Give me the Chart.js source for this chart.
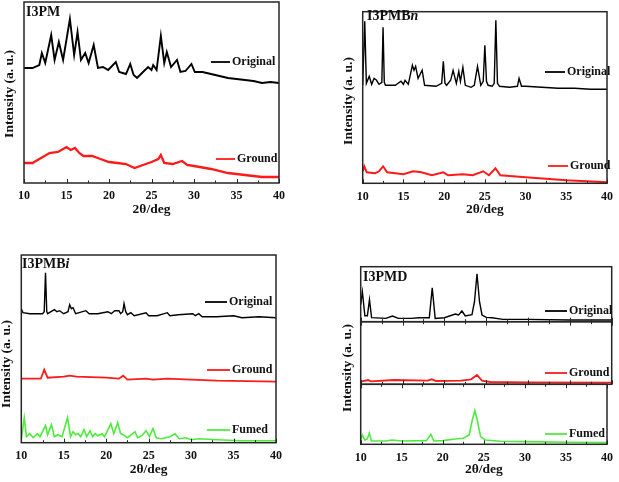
<!DOCTYPE html>
<html>
<head>
<meta charset="utf-8">
<script src="https://cdn.jsdelivr.net/npm/chart.js@4.4.1/dist/chart.umd.min.js"></script>
<style>
  body { margin: 0; background: #fff; width: 619px; height: 482px; position: relative; overflow: hidden; }
  canvas { position: absolute; }
</style>
</head>
<body>
<canvas id="c1" width="292" height="222" style="left:0px;top:0px"></canvas>
<canvas id="c2" width="280" height="222" style="left:339px;top:0px"></canvas>
<canvas id="c3" width="292" height="242" style="left:0px;top:240px"></canvas>
<canvas id="c4a" width="281" height="227" style="left:338px;top:255px"></canvas>
<canvas id="c4b" width="281" height="227" style="left:338px;top:255px"></canvas>
<canvas id="c4c" width="281" height="227" style="left:338px;top:255px"></canvas>
<script>
// values (2theta in deg, intensity in arbitrary units)

// I3PM
const i3pmOriginalX = [10,11,11.8,12.1,12.5,13.2,13.6,14.1,14.6,15.4,15.9,16.3,16.7,17.2,17.6,18.2,18.7,19.3,19.9,20.8,21.2,22,22.5,22.9,23.3,24,24.6,25,25.2,25.6,26.1,26.5,26.8,27.3,28,28.4,29,29.7,30.1,31,32,33,34,35,36,37,38,39,40];
const i3pmOriginalY = [115,115,118,130,120,148,123,141,123,164,128,151,123,130,120,138,115,116,113,121,111,109,119,108,105,111,116,113,118,113,147,120,131,116,123,111,112,119,111,111,109,107,105,104,103,102,100,101,100];
const i3pmGroundX = [10,11,12,13,14,15,15.5,16,16.5,17,18,19,20,21,22,23,24,25,25.8,26.1,26.5,27.5,28.6,29.2,30,32,34,36,38,40];
const i3pmGroundY = [20,20,25,30,31,36,33,35,30,27,27,24,21,20,19,15,18,21,24,28,20,19,22,18,17,14,10,8,6,6];

// I3PMBn
const i3pmbnOriginalX = [10,10.25,10.45,10.8,11.1,11.4,11.7,12,12.35,12.5,12.65,12.8,14,14.7,15,15.2,15.6,16.1,16.3,16.5,16.8,17.3,17.6,19,19.7,19.9,20.1,20.3,20.8,21.1,21.5,21.8,22,22.3,22.6,23.3,23.7,24.1,24.5,24.8,25,25.2,25.4,25.9,26.15,26.35,26.55,26.8,28,29,29.2,29.5,30,32,34,36,38,40];
const i3pmbnOriginalY = [98,162,100,107,99,105,103,99,101,156,101,98,98,102,99,103,99,118,113,117,105,113,98,97,100,122,100,98,103,113,100,112,102,116,98,96,98,117,98,102,138,102,98,97,100,163,100,97,96,97,105,97,97,96,95,95,94,94];
const i3pmbnGroundX = [10,10.2,10.5,11.5,12,12.5,13,15,16.2,17.2,18.5,19.9,20.5,22.3,23.5,24.8,25.5,26.3,26.9,30,35,40];
const i3pmbnGroundY = [12,17,11,10,12,17,11,9,12,11,8,11,8,9,8,12,8,15,8,6,3,1];

// I3PMBi
const i3pmbiOriginalX = [10,10.2,11,12.5,12.7,12.85,13,13.1,13.9,14.2,14.5,15,15.5,15.7,15.9,16.1,16.4,17.6,18,19,20.2,20.6,21,21.5,21.7,21.95,22.1,22.3,22.5,22.9,23.3,24.7,25,26,27.2,27.5,28.5,30.2,30.5,30.9,31.3,33,35,36,38,40];
const i3pmbiOriginalY = [134,130,129,129,131,170,131,129,133,131,132,129,131,138,134,135,129,132,129,129,131,129,132,132,129,131,139,131,128,130,127,130,127,127,130,127,128,129,127,129,126,126,127,125,126,125];
const i3pmbiGroundX = [10,12.3,12.7,13.1,15,15.7,16.5,20,21.5,22,22.5,24.7,25.5,27.2,30,33,40];
const i3pmbiGroundY = [64,64,73,65,66,67,66,65,64,67,63,64,63,64,63,62,61];
const i3pmbiFumedX = [10,10.35,10.6,11,11.4,11.9,12.2,12.85,13.1,13.55,13.9,14.3,14.8,15.45,15.8,16.1,16.4,16.7,17,17.4,17.7,18.1,18.4,18.7,19,19.5,19.8,20.55,20.9,21.35,21.7,22,22.5,23.4,23.7,24.2,24.7,25.1,25.5,25.9,26.5,27.5,28.1,28.6,29.4,30,31,33,36,40];
const i3pmbiFumedY = [3,25,6,9,5,9,6,17,8,18,6,8,6,25,6,11,8,9,6,13,6,12,6,9,7,9,6,19,9,20,9,8,5,11,5,7,12,6,14,5,4,6,9,4,5,3,4,3,2,2];

// I3PMD
const i3pmdOriginalX = [10,10.2,10.5,10.8,11.05,11.3,13,13.8,14.5,16,17,18.2,18.55,18.9,20,21.3,21.7,22.1,22.5,23.3,23.6,23.9,24.2,24.5,25,25.7,27,30,35,40];
const i3pmdOriginalY = [17,30,6,6,22,4,3.3,5.7,3.3,3.3,4,4,34,3.3,4,7.7,6.7,10.7,5.7,7,20,48,20,6.7,4.3,4,2.3,2.3,1.7,1.7];
const i3pmdGroundX = [10,10.9,11.2,14,18,18.5,19,22,23.2,23.9,24.5,25.5,30,40];
const i3pmdGroundY = [2.7,4.3,3,4.3,3.7,5,3.3,3.7,5,9.3,3.7,2.3,2,1.7];
const i3pmdFumedX = [10,10.2,10.5,10.8,11.05,11.3,13,13.8,15,18,18.55,18.9,20,21.5,22.5,23.2,23.6,23.9,24.2,24.6,25.2,27,30,35,40];
const i3pmdFumedY = [5,9.3,4.3,5.3,11,3.3,3.3,4.3,3.3,3.7,10,3.3,3.7,5.3,6,9.3,24.3,33.7,24.3,7.7,4.3,3,2.7,2,1.7];

const BLACK = '#000000', RED = '#ff1a1a', GREEN = '#4ced3a';
const SERIF = '"Liberation Serif", "Times New Roman", serif';

// frame, inward ticks, panel name, legend and y title
const decor = {
  id: 'decor',
  afterDraw(chart, args, o) {
    const ctx = chart.ctx, a = chart.chartArea, x = chart.scales.x;
    ctx.save();
    ctx.strokeStyle = '#262626';
    ctx.lineWidth = 1.5;
    ctx.strokeRect(a.left, a.top, a.right - a.left, a.bottom - a.top);
    ctx.lineWidth = 1;
    ctx.beginPath();
    for (let v = 10; v <= 40; v += 2.5) {
      const px = Math.round(x.getPixelForValue(v)) + 0.5;
      const len = v % 5 === 0 ? 4 : 2.5;
      ctx.moveTo(px, a.bottom); ctx.lineTo(px, a.bottom - len);
      if (o.topTicks) { ctx.moveTo(px, a.top); ctx.lineTo(px, a.top + len); }
    }
    ctx.stroke();

    ctx.fillStyle = '#111';
    ctx.textBaseline = 'middle';
    ctx.textAlign = 'left';
    if (o.name) {
      let tx = o.name.x;
      o.name.parts.forEach(p => {
        ctx.font = p[1] + ' 14px ' + SERIF;
        ctx.fillText(p[0], tx, o.name.y);
        tx += ctx.measureText(p[0]).width;
      });
    }
    (o.legend || []).forEach(l => {
      const ds = chart.data.datasets[l.i];
      ctx.strokeStyle = ds.borderColor;
      ctx.lineWidth = 1.8;
      ctx.beginPath(); ctx.moveTo(l.x0, l.y); ctx.lineTo(l.x1, l.y); ctx.stroke();
      ctx.font = 'bold 12px ' + SERIF;
      ctx.fillText(ds.label, l.x1 + 2, l.y);
    });
    if (o.yTitle) {
      ctx.translate(o.yTitle.x, o.yTitle.y);
      ctx.rotate(-Math.PI / 2);
      ctx.textAlign = 'center';
      ctx.font = 'bold 13.5px ' + SERIF;
      ctx.fillText('Intensity (a. u.)', 0, 0);
    }
    ctx.restore();
  }
};

function pts(xs, ys) {
  return xs.map((v, i) => ({x: v, y: ys[i]}));
}

function makeChart(id, series, opts) {
  let datasets = series.map(s => ({
    label: s.label,
    data: pts(s.x, s.y),
    borderColor: s.color,
    borderWidth: s.width,
    pointRadius: 0,
    tension: 0,
    fill: false
  }));
  return new Chart(document.getElementById(id), {
    type: 'line',
    data: { datasets: datasets },
    options: {
      responsive: false,
      animation: false,
      layout: { padding: opts.pad },
      scales: {
        x: {
          type: 'linear', min: 10, max: 40,
          afterFit: s => { s.height = opts.xHeight; },
          grid: { display: false, drawTicks: false },
          border: { display: false },
          ticks: {
            display: opts.showX, stepSize: 5, padding: 6, color: '#111',
            font: { family: SERIF, size: 12, weight: 'bold' }
          },
          title: {
            display: opts.showX, text: '2θ/deg', color: '#111',
            padding: { top: 0, bottom: 4 },
            font: { family: SERIF, size: 13.5, weight: 'bold' }
          }
        },
        y: { display: false, min: 0, max: opts.yMax }
      },
      plugins: {
        legend: { display: false },
        tooltip: { enabled: false },
        decor: opts.decor
      }
    },
    plugins: [decor]
  });
}

makeChart('c1', [
  { label: 'Original', x: i3pmOriginalX, y: i3pmOriginalY, color: BLACK, width: 1.9 },
  { label: 'Ground', x: i3pmGroundX, y: i3pmGroundY, color: RED, width: 2.3 }
], {
  pad: { left: 24, top: 2, right: 13, bottom: 0 }, xHeight: 39, yMax: 181, showX: true,
  decor: {
    name: { x: 26, y: 12, parts: [['I3PM', 'bold']] },
    legend: [{ i: 0, x0: 211, x1: 230, y: 62 }, { i: 1, x0: 216, x1: 235, y: 159 }],
    yTitle: { x: 10, y: 94 }
  }
});

makeChart('c2', [
  { label: 'Original', x: i3pmbnOriginalX, y: i3pmbnOriginalY, color: BLACK, width: 1.4 },
  { label: 'Ground', x: i3pmbnGroundX, y: i3pmbnGroundY, color: RED, width: 2 }
], {
  pad: { left: 23.7, top: 11.7, right: 9.7, bottom: 0 }, xHeight: 38.7, yMax: 171.6, showX: true,
  decor: {
    name: { x: 28, y: 16, parts: [['I3PMB', 'bold'], ['n', 'italic bold']] },
    legend: [{ i: 0, x0: 206, x1: 226, y: 72 }, { i: 1, x0: 209, x1: 229, y: 166 }],
    yTitle: { x: 10, y: 101 }
  }
});

makeChart('c3', [
  { label: 'Original', x: i3pmbiOriginalX, y: i3pmbiOriginalY, color: BLACK, width: 1.4 },
  { label: 'Ground', x: i3pmbiGroundX, y: i3pmbiGroundY, color: RED, width: 1.8 },
  { label: 'Fumed', x: i3pmbiFumedX, y: i3pmbiFumedY, color: GREEN, width: 1.6 }
], {
  pad: { left: 21.3, top: 15, right: 16, bottom: 0 }, xHeight: 39.3, yMax: 187.7, showX: true,
  decor: {
    name: { x: 22, y: 24, parts: [['I3PMB', 'bold'], ['i', 'italic bold']] },
    legend: [{ i: 0, x0: 205, x1: 227, y: 62 }, { i: 1, x0: 207, x1: 230, y: 130 }, { i: 2, x0: 207, x1: 230, y: 190 }],
    yTitle: { x: 7, y: 124 }
  }
});

makeChart('c4a', [
  { label: 'Original', x: i3pmdOriginalX, y: i3pmdOriginalY, color: BLACK, width: 1.4 }
], {
  pad: { left: 22.7, top: 11.7, right: 7.3, bottom: 0 }, xHeight: 160.3, yMax: 55, showX: false,
  decor: {
    name: { x: 25, y: 22, parts: [['I3PMD', 'bold']] },
    legend: [{ i: 0, x0: 207, x1: 229, y: 56 }],
    yTitle: { x: 10, y: 113 }
  }
});

makeChart('c4b', [
  { label: 'Ground', x: i3pmdGroundX, y: i3pmdGroundY, color: RED, width: 1.8 }
], {
  pad: { left: 22.7, top: 66.7, right: 7.3, bottom: 0 }, xHeight: 97.7, yMax: 62.6, showX: false,
  decor: {
    topTicks: true,
    legend: [{ i: 0, x0: 207, x1: 229, y: 118 }]
  }
});

makeChart('c4c', [
  { label: 'Fumed', x: i3pmdFumedX, y: i3pmdFumedY, color: GREEN, width: 1.6 }
], {
  pad: { left: 22.7, top: 129.3, right: 7.3, bottom: 0 }, xHeight: 37.7, yMax: 60, showX: true,
  decor: {
    topTicks: true,
    legend: [{ i: 0, x0: 207, x1: 229, y: 179 }]
  }
});
</script>
</body>
</html>
